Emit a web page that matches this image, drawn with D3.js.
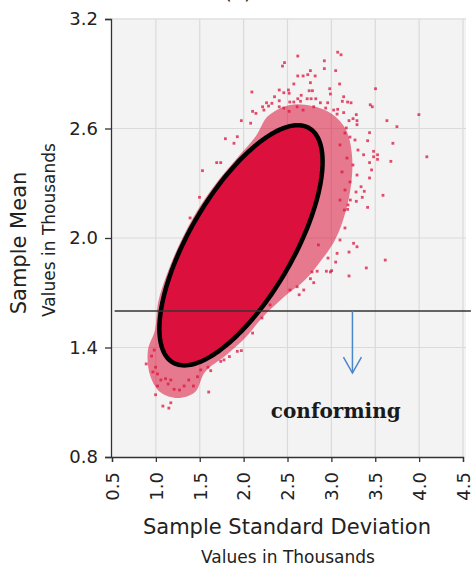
<!DOCTYPE html>
<html>
<head>
<meta charset="utf-8">
<script src="https://cdn.jsdelivr.net/npm/d3@7"></script>
<style>
    body { margin: 0; background: #fff; }
    svg { display: block; font-family: "DejaVu Sans", sans-serif; }
</style>
</head>
<body>
<div id="visualization"></div>
<script>
// Axis ticks (values in thousands)
const sdTicks = [0.5, 1.0, 1.5, 2.0, 2.5, 3.0, 3.5, 4.0, 4.5];
const meanTicks = [0.8, 1.4, 2.0, 2.6, 3.2];

// Density ellipse: centre, half extents (sd, mean) and correlation
const ellipseCenter = [1.97, 1.96];
const ellipseSpread = [0.93, 0.658];
const ellipseCorr = 0.695;

// Outline of the dense fringe round the core
const fringeOutline = [
    [2.278, 2.668], [2.528, 2.729], [2.779, 2.723], [3.007, 2.679], [3.167, 2.592],
    [3.235, 2.455], [3.224, 2.290], [3.155, 2.132], [3.041, 1.989], [2.870, 1.868],
    [2.699, 1.770], [2.472, 1.682], [2.209, 1.562], [2.027, 1.458], [1.788, 1.353],
    [1.560, 1.266], [1.446, 1.156], [1.252, 1.123], [1.047, 1.156], [0.933, 1.249],
    [0.910, 1.386], [0.990, 1.496], [1.024, 1.644], [1.127, 1.803], [1.275, 1.973],
    [1.469, 2.148], [1.697, 2.307], [1.936, 2.444], [2.141, 2.559]
];

// Scattered samples outside the core: [sd, mean]
const samples = [
    [2.617, 2.997], [3.072, 3.018], [3.110, 3.004], [2.466, 2.961], [2.443, 2.942],
    [2.920, 2.971], [2.920, 2.928], [3.049, 2.917], [2.761, 2.917], [2.731, 2.895],
    [2.678, 2.888], [2.617, 2.888], [2.815, 2.888], [2.761, 2.851], [2.572, 2.844],
    [3.094, 2.844], [2.094, 2.800], [2.406, 2.811], [2.458, 2.796], [2.511, 2.811],
    [2.519, 2.793], [2.747, 2.807], [2.784, 2.807], [2.981, 2.818], [2.989, 2.789],
    [2.656, 2.782], [2.617, 2.763], [2.352, 2.774], [2.724, 2.763], [2.769, 2.763],
    [2.822, 2.763], [2.406, 2.752], [2.526, 2.745], [2.572, 2.745], [2.648, 2.749],
    [2.875, 2.741], [2.958, 2.741], [3.125, 2.749], [3.185, 2.745], [2.261, 2.741],
    [2.284, 2.723], [2.322, 2.738], [2.216, 2.719], [2.231, 2.701], [2.406, 2.719],
    [2.458, 2.712], [2.519, 2.694], [2.610, 2.719], [2.678, 2.701], [2.799, 2.719],
    [2.935, 2.712], [3.026, 2.701], [3.065, 2.679], [2.102, 2.694], [2.140, 2.683],
    [1.974, 2.643], [3.503, 2.818], [3.140, 2.774], [3.224, 2.741], [3.443, 2.730],
    [3.466, 2.719], [3.072, 2.705], [3.140, 2.687], [3.284, 2.676], [3.997, 2.676],
    [3.201, 2.643], [3.247, 2.654], [3.292, 2.643], [3.292, 2.621], [3.633, 2.643],
    [3.747, 2.610], [3.170, 2.603], [3.435, 2.577], [3.701, 2.519], [4.088, 2.445],
    [3.481, 2.475], [3.526, 2.456], [3.481, 2.445], [3.526, 2.431], [3.678, 2.420],
    [3.413, 2.533], [3.367, 2.456], [3.435, 2.413], [3.458, 2.373], [3.435, 2.329],
    [3.338, 2.281], [3.375, 2.256], [3.352, 2.223], [3.284, 2.201], [3.216, 2.208],
    [3.588, 2.234], [3.413, 2.168], [3.148, 2.153], [3.185, 2.157], [3.253, 1.971],
    [3.201, 1.923], [3.292, 1.952], [3.065, 1.916], [3.049, 1.868], [3.201, 1.792],
    [3.003, 1.821], [2.943, 1.818], [2.838, 1.818], [2.761, 1.777], [2.799, 1.755],
    [2.610, 1.733], [2.685, 1.715], [2.633, 1.689], [3.614, 1.879], [3.398, 1.836],
    [2.852, 1.962], [2.989, 1.814],
    [3.155, 2.575], [3.212, 2.553], [3.269, 2.537], [3.098, 2.510], [3.303, 2.482],
    [3.178, 2.438], [3.246, 2.400], [3.121, 2.362], [3.292, 2.345], [3.212, 2.307],
    [3.155, 2.263], [3.281, 2.252], [3.098, 2.208], [3.189, 2.181],
    [3.098, 1.989], [3.155, 2.055], [2.962, 1.890], [2.779, 1.814], [2.528, 1.715],
    [2.301, 1.633], [2.209, 1.562],
    [0.890, 1.310], [0.951, 1.353], [0.981, 1.386], [0.997, 1.292], [0.966, 1.266],
    [1.019, 1.255], [1.057, 1.222], [1.110, 1.229], [1.140, 1.200], [1.170, 1.222],
    [0.997, 1.141], [1.019, 1.189], [1.080, 1.079], [1.148, 1.068], [1.170, 1.097],
    [1.208, 1.171], [1.269, 1.167], [1.322, 1.189], [1.375, 1.222], [1.428, 1.189],
    [1.602, 1.156], [1.474, 1.240], [1.511, 1.277], [1.625, 1.273], [1.594, 1.292],
    [1.739, 1.324], [1.776, 1.332], [1.838, 1.350], [1.928, 1.379], [1.974, 1.383],
    [1.852, 1.437], [1.928, 1.463], [1.739, 1.423], [2.102, 1.479],
    [1.531, 2.369], [1.497, 2.223], [1.390, 2.110], [1.693, 2.413], [1.739, 2.413],
    [1.792, 2.544], [1.890, 2.519], [1.928, 2.555], [2.080, 2.629]
];

// Spec limit and annotation
const limitMean = 1.6;
const limitSpan = [0.53, 4.59];
const arrowSd = 3.24;
const arrowEnd = 1.26;
const noteText = 'conforming';
const notePos = [3.05, 1.015];

// Dimensions
const width = 473, height = 571;
const margin = {top: 19, left: 112};
const plotW = 351, plotH = 438;

const svg = d3.select('#visualization')
    .append('svg')
    .attr('width', width)
    .attr('height', height);

const x = d3.scaleLinear().domain([0.5, 4.5]).range([margin.left, margin.left + plotW]);
const y = d3.scaleLinear().domain([0.8, 3.2]).range([margin.top + plotH, margin.top]);

// Plot background
svg.append('rect')
    .attr('x', x(0.5))
    .attr('y', y(3.2) - 1)
    .attr('width', x(4.5) - x(0.5) + 3)
    .attr('height', y(0.8) - y(3.2) + 1)
    .attr('fill', '#f3f3f3');

// Grid
svg.append('g')
    .selectAll('line')
    .data(sdTicks.slice(1))
    .join('line')
    .attr('x1', d => x(d)).attr('x2', d => x(d))
    .attr('y1', y(3.2)).attr('y2', y(0.8))
    .attr('stroke', '#dadada')
    .attr('stroke-width', 1.2);

svg.append('g')
    .selectAll('line')
    .data(meanTicks.slice(1))
    .join('line')
    .attr('x1', x(0.5)).attr('x2', x(4.5) + 3)
    .attr('y1', d => y(d)).attr('y2', d => y(d))
    .attr('stroke', '#dadada')
    .attr('stroke-width', 1.2);

// Fringe of the cloud
svg.append('path')
    .datum(fringeOutline)
    .attr('d', d3.line().x(d => x(d[0])).y(d => y(d[1])).curve(d3.curveCatmullRomClosed))
    .attr('fill', '#dc143c')
    .attr('fill-opacity', 0.55);

// Scattered samples
svg.append('g')
    .selectAll('rect')
    .data(samples)
    .join('rect')
    .attr('x', d => x(d[0]) - 1.4)
    .attr('y', d => y(d[1]) - 1.4)
    .attr('width', 2.8)
    .attr('height', 2.8)
    .attr('fill', '#dc143c')
    .attr('fill-opacity', 0.75);

// Ellipse
const ellipsePts = d3.range(0, 360, 2).map(deg => {
    const t = deg * Math.PI / 180;
    return [
        ellipseCenter[0] + ellipseSpread[0] * Math.cos(t),
        ellipseCenter[1] + ellipseSpread[1] * (ellipseCorr * Math.cos(t) + Math.sqrt(1 - ellipseCorr * ellipseCorr) * Math.sin(t))
    ];
});
const ellipseLine = d3.line().x(d => x(d[0])).y(d => y(d[1])).curve(d3.curveLinearClosed);

svg.append('path')
    .datum(ellipsePts)
    .attr('d', ellipseLine)
    .attr('fill', '#dc103c');

svg.append('path')
    .datum(ellipsePts)
    .attr('d', ellipseLine)
    .attr('fill', 'none')
    .attr('stroke', '#000')
    .attr('stroke-width', 4.5);

// Limit line
svg.append('line')
    .attr('x1', x(limitSpan[0])).attr('x2', x(limitSpan[1]))
    .attr('y1', y(limitMean)).attr('y2', y(limitMean))
    .attr('stroke', '#333')
    .attr('stroke-width', 1.5);

// Arrow
svg.append('line')
    .attr('x1', x(arrowSd)).attr('x2', x(arrowSd))
    .attr('y1', y(limitMean)).attr('y2', y(arrowEnd))
    .attr('stroke', '#4a86c8')
    .attr('stroke-width', 1.5);

svg.append('path')
    .attr('d', `M${x(arrowSd) - 9},${y(arrowEnd) - 16}L${x(arrowSd)},${y(arrowEnd)}L${x(arrowSd) + 9},${y(arrowEnd) - 16}`)
    .attr('fill', 'none')
    .attr('stroke', '#4a86c8')
    .attr('stroke-width', 1.5);

svg.append('text')
    .attr('x', x(notePos[0]))
    .attr('y', y(notePos[1]))
    .attr('text-anchor', 'middle')
    .attr('font-family', '"DejaVu Serif", serif')
    .attr('font-weight', 'bold')
    .attr('font-size', 20)
    .attr('fill', '#1a1a1a')
    .text(noteText);

// Axes
const yAxis = svg.append('g')
    .attr('transform', `translate(${margin.left - 1},0)`)
    .call(d3.axisLeft(y).tickValues(meanTicks).tickFormat(d3.format('.1f')).tickSize(6).tickPadding(7));
yAxis.selectAll('text').attr('font-size', 18).attr('fill', '#222').attr('font-family', '"DejaVu Sans", sans-serif');
yAxis.selectAll('line, path').attr('stroke', '#333').attr('stroke-width', 1.3);

const xAxis = svg.append('g')
    .attr('transform', `translate(0,${margin.top + plotH})`)
    .call(d3.axisBottom(x).tickValues(sdTicks).tickFormat(d3.format('.1f')).tickSize(5));
xAxis.selectAll('text')
    .attr('font-size', 18)
    .attr('fill', '#222')
    .attr('font-family', '"DejaVu Sans", sans-serif')
    .attr('x', -15)
    .attr('y', 0)
    .attr('dy', '0.35em')
    .attr('text-anchor', 'end')
    .attr('transform', 'rotate(-90)');
xAxis.selectAll('line, path').attr('stroke', '#333').attr('stroke-width', 1.3);

// Titles
svg.append('text')
    .attr('x', 287).attr('y', 534)
    .attr('text-anchor', 'middle')
    .attr('font-size', 21)
    .attr('fill', '#222')
    .text('Sample Standard Deviation');

svg.append('text')
    .attr('x', 288).attr('y', 563)
    .attr('text-anchor', 'middle')
    .attr('font-size', 17)
    .attr('fill', '#222')
    .text('Values in Thousands');

svg.append('text')
    .attr('transform', 'translate(26,243) rotate(-90)')
    .attr('text-anchor', 'middle')
    .attr('font-size', 21)
    .attr('fill', '#222')
    .text('Sample Mean');

svg.append('text')
    .attr('transform', 'translate(55,230) rotate(-90)')
    .attr('text-anchor', 'middle')
    .attr('font-size', 17)
    .attr('fill', '#222')
    .text('Values in Thousands');

svg.append('text')
    .attr('x', 238).attr('y', -1)
    .attr('text-anchor', 'middle')
    .attr('font-size', 20)
    .attr('fill', '#222')
    .text('(a)');
</script>
</body>
</html>
